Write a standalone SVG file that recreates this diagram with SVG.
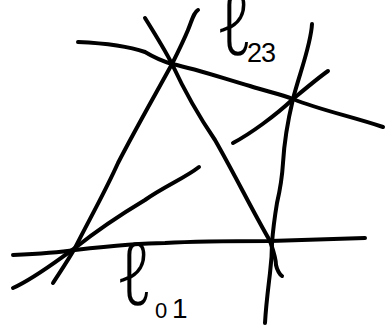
<svg xmlns="http://www.w3.org/2000/svg" width="388" height="326" viewBox="0 0 388 326">
<style>
.ln{fill:none;stroke:#000;stroke-width:4;stroke-linecap:round;stroke-linejoin:round}
.ell{font-family:"Noto Sans","DejaVu Sans",sans-serif;font-weight:300;fill:#000}
.sub{font-family:"Liberation Sans",sans-serif;fill:#000}
</style>
<rect width="388" height="326" fill="#fff"/>
<g id="lines">
<path class="ln" d="M78,42 C100,43 125,45 145,52 C155,58 162,61 172,64 C200,70 225,79 250,86 C265,91 280,94 293,99 C320,110 350,116 383,127"/>
<path class="ln" d="M145,18 C155,34 165,50 172,64 C185,92 200,118 215,140 C235,175 252,210 270,241 C273,250 276,258 276,265 C277,270 280,275 282,276"/>
<path class="ln" d="M198,10 C194,12 192,20 188,30 C183,42 177,54 172,64 C155,95 135,130 118,163 C105,192 88,222 75,248 C67,262 60,272 53,283"/>
<path class="ln" d="M312,24 C311,45 299,75 293,99 C288,120 284,145 283,163 C282,180 280,190 277,203 C275,215 273,230 272,243 C272,255 271,265 270,273 C268,290 266,305 265,323"/>
<path class="ln" d="M233,143 C250,134 275,116 293,99 C305,89 318,78 328,71"/>
<path class="ln" d="M199,167 C185,178 165,186 145,200 C120,215 95,232 75,248 C55,262 35,278 13,288"/>
<path class="ln" d="M13,255 C35,254 55,253 75,250 C110,246 140,243 165,243 C200,241 235,241 270,241 C300,240 330,239 365,238"/>
</g>
<g id="label-l23">
<text class="ell" transform="translate(216,55) scale(1.2,1.4)" font-size="62">ℓ</text>
<text class="sub" x="247" y="62" font-size="27" letter-spacing="-1">23</text>
</g>
<g id="label-l01">
<text class="ell" transform="translate(116,305) scale(1.2,1.4)" font-size="62">ℓ</text>
<text class="sub" x="155" y="318" font-size="22">0</text>
<text class="sub" x="172" y="318" font-size="28">1</text>
</g>
</svg>
